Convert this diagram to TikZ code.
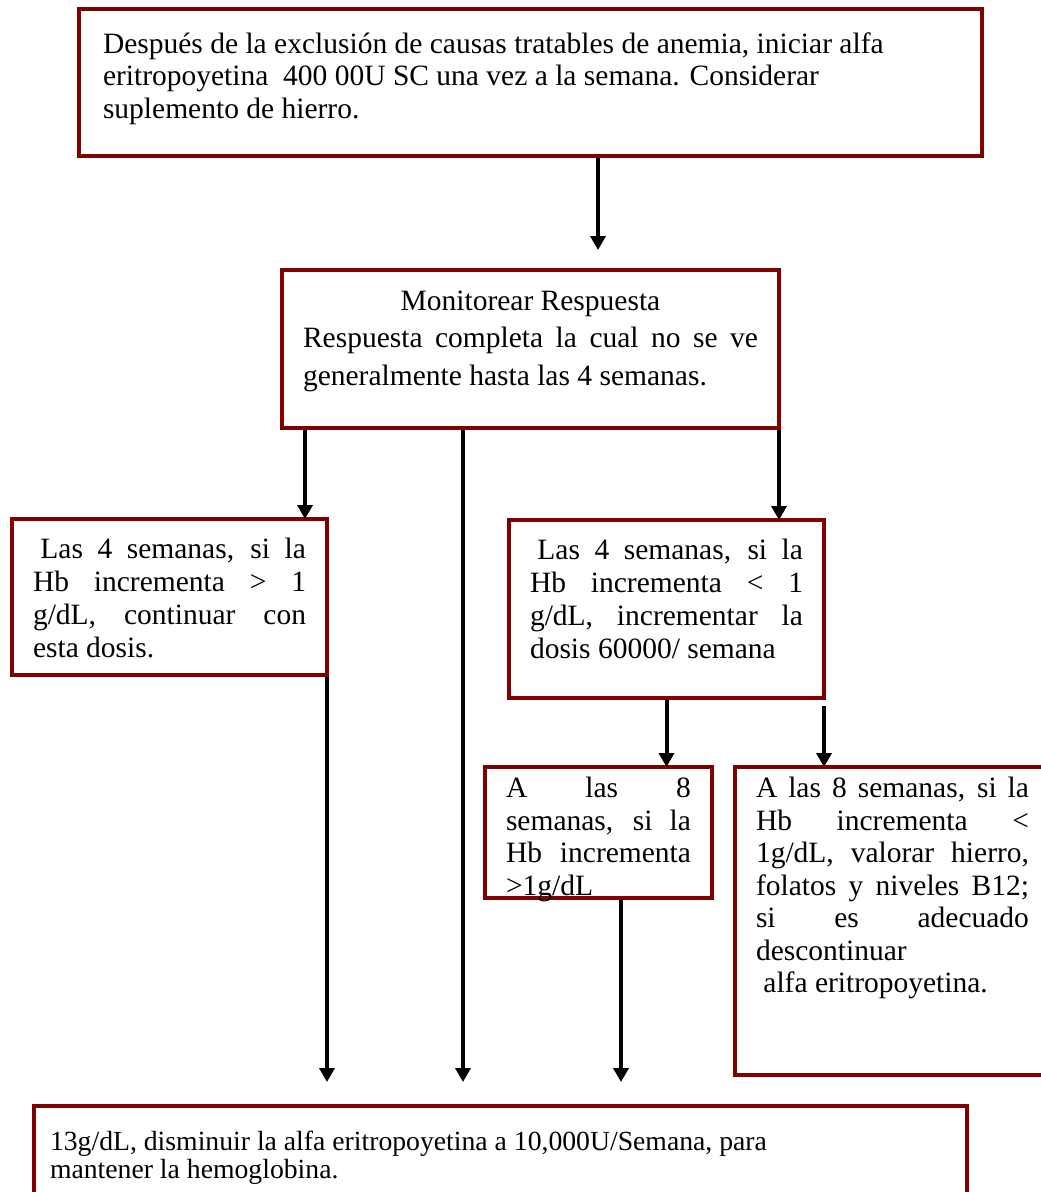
\documentclass[tikz,border=0pt]{standalone}
\usepackage{fontspec}
\setmainfont{Liberation Serif}
\usetikzlibrary{arrows.meta}
\definecolor{granate}{HTML}{800000}
\newcommand{\caja}[3]{\parbox[t][#2][t]{#1}{\strut#3}}
\newcommand{\renglon}[1]{\makebox[\linewidth][s]{#1}\\}
\tikzset{
    paso/.style={
        draw=granate,
        line width=4.5pt,
        anchor=north west,
        outer sep=0pt,
        inner xsep=21pt,
        inner ysep=16pt,
        font=\fontsize{29.5}{33}\selectfont},
    flecha/.style={
        draw,
        line width=4pt,
        shorten <=2pt,
        -{Triangle[width=15pt,length=14pt]}}}

\begin{document}
\begin{tikzpicture}[x=1pt,y=-1pt]
        \useasboundingbox (0,0) rectangle (1041,1192);
        \clip (0,0) rectangle (1041,1192);

        \node[paso,inner xsep=24pt,inner ysep=21.5pt,font=\fontsize{29.5}{32.5}\selectfont] (inicio) at (79,9)
            {\caja{855pt}{104pt}{Después de la exclusión de causas tratables de anemia, iniciar alfa\\
            eritropoyetina\ \ 400 00U SC una vez a la semana. Considerar\\
            suplemento de hierro.}};
        \node[paso,inner ysep=14pt,font=\fontsize{29.5}{37.5}\selectfont] (monitoreo) at (282,270)
            {\caja{455pt}{130pt}{\makebox[\linewidth]{Monitorear Respuesta}\\
            \renglon{Respuesta completa la cual no se ve}
            generalmente hasta las 4 semanas.}};
        \node[paso] (mayor) at (12,519)
            {\caja{273pt}{124pt}{\renglon{\hspace*{7.4pt}Las 4 semanas, si la}
            \renglon{Hb incrementa > 1}
            \renglon{g/dL, continuar con}
            esta dosis.}};
        \node[paso] (menor) at (509,520)
            {\caja{273pt}{146pt}{\renglon{\hspace*{7.4pt}Las 4 semanas, si la}
            \renglon{Hb incrementa < 1}
            \renglon{g/dL, incrementar la}
            dosis 60000/ semana}};
        \node[paso,inner ysep=8pt,font=\fontsize{29.5}{32.5}\selectfont] (ocho) at (485,767)
            {\caja{185pt}{115pt}{\renglon{A las 8}
            \renglon{semanas, si la}
            \renglon{Hb incrementa}
            >1g/dL}};
        \node[paso,inner ysep=8pt,font=\fontsize{29.5}{32.5}\selectfont] (valorar) at (735,767)
            {\caja{273pt}{292pt}{\renglon{A las 8 semanas, si la}
            \renglon{Hb incrementa <}
            \renglon{1g/dL, valorar hierro,}
            \renglon{folatos y niveles B12;}
            \renglon{si es adecuado}
            descontinuar\\
            \hspace*{7.4pt}alfa eritropoyetina.}};
        \node[paso,inner xsep=16pt,inner ysep=25pt,font=\fontsize{27.7}{28}\selectfont] (mantener) at (34,1106)
            {\caja{901pt}{84pt}{13g/dL, disminuir la alfa eritropoyetina a 10,000U/Semana, para\\
            mantener la hemoglobina.}};

        % flechas
        \coordinate (s0) at ([xshift=67.5pt]inicio.south);
        \coordinate (s1) at ([xshift=23pt]monitoreo.south west);
        \coordinate (s2) at ([xshift=181pt]monitoreo.south west);
        \coordinate (s3) at ([xshift=22.5pt]ocho.south);
        \draw[flecha,shorten >=20pt] (s0) -- (s0 |- monitoreo.north);
        \draw[flecha] (s1) -- (s1 |- mayor.north);
        \draw[flecha,shorten >=24pt] (s2) -- (s2 |- mantener.north);
        \draw[flecha] (monitoreo.south east) -- (monitoreo.south east |- menor.north);
        \draw[flecha] (menor.south) -- (menor.south |- ocho.north);
        \draw[flecha,shorten <=8pt] (menor.south east) -- (menor.south east |- valorar.north);
        \draw[flecha,shorten >=24pt] (mayor.south east) -- (mayor.south east |- mantener.north);
        \draw[flecha,shorten >=24pt] (s3) -- (s3 |- mantener.north);
    \end{tikzpicture}
\end{document}
